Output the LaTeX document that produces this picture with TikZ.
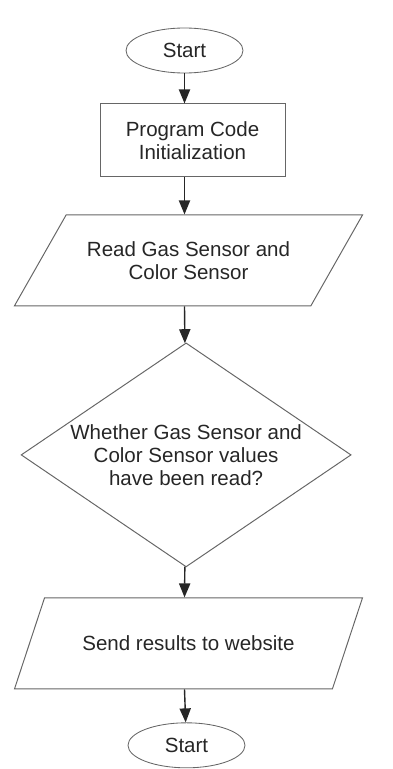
\documentclass[tikz,border=0pt]{standalone}
\usepackage{fontspec}
\setmainfont{Liberation Sans}
\usetikzlibrary{shapes.geometric, arrows.meta, positioning}

\begin{document}
\begin{tikzpicture}[
    font=\fontsize{14.6}{16.4}\selectfont,
    text=black!85,
    terminal/.style={ellipse, draw=black!60, line width=0.6pt, minimum width=2.925cm, minimum height=1.125cm, inner sep=0pt},
    process/.style={rectangle, draw=black!60, line width=0.7pt, minimum width=4.625cm, minimum height=1.825cm, align=center},
    io/.style={trapezium, trapezium left angle=46.6, trapezium right angle=133.4, trapezium stretches=true, draw=black!60, line width=0.7pt, minimum width=8.725cm, minimum height=2.275cm, align=center},
    decision/.style={diamond, aspect=1.47, draw=black!60, line width=0.7pt, inner sep=0pt, minimum width=8.25cm, minimum height=5.6cm, align=center},
    arrow/.style={-{Triangle[length=0.35cm, width=0.28cm]}, line width=1pt, draw=black!85}
]
\useasboundingbox (0,0) rectangle (9.8,-19.225);

% Sensor reading flow
\node[terminal] (start) at (4.6125,-1.2625) {Start};
\node[process, below=0.75cm of start, xshift=0.2cm] (init) {Program Code\\Initialization};
\node[io, below=0.925cm of init, xshift=-0.1cm] (read) {Read Gas Sensor and\\Color Sensor};
\node[decision, below=0.9cm of read, xshift=-0.06cm] (check) {Whether Gas Sensor and\\Color Sensor values\\have been read?};
\node[io, below=0.75cm of check, xshift=0.06cm] (send) {Send results to website};
\node[terminal, below=0.825cm of send, xshift=-0.05cm] (stop) {Start};

\draw[arrow] (start) -- (init.north -| start);
\draw[arrow] (init.south -| start) -- (read.north -| start);
\draw[arrow] (read.south -| start) -- (check);
\draw[arrow] (check) -- (send.north -| start);
\draw[arrow] (send.south -| start) -- (stop);

\end{tikzpicture}
\end{document}
